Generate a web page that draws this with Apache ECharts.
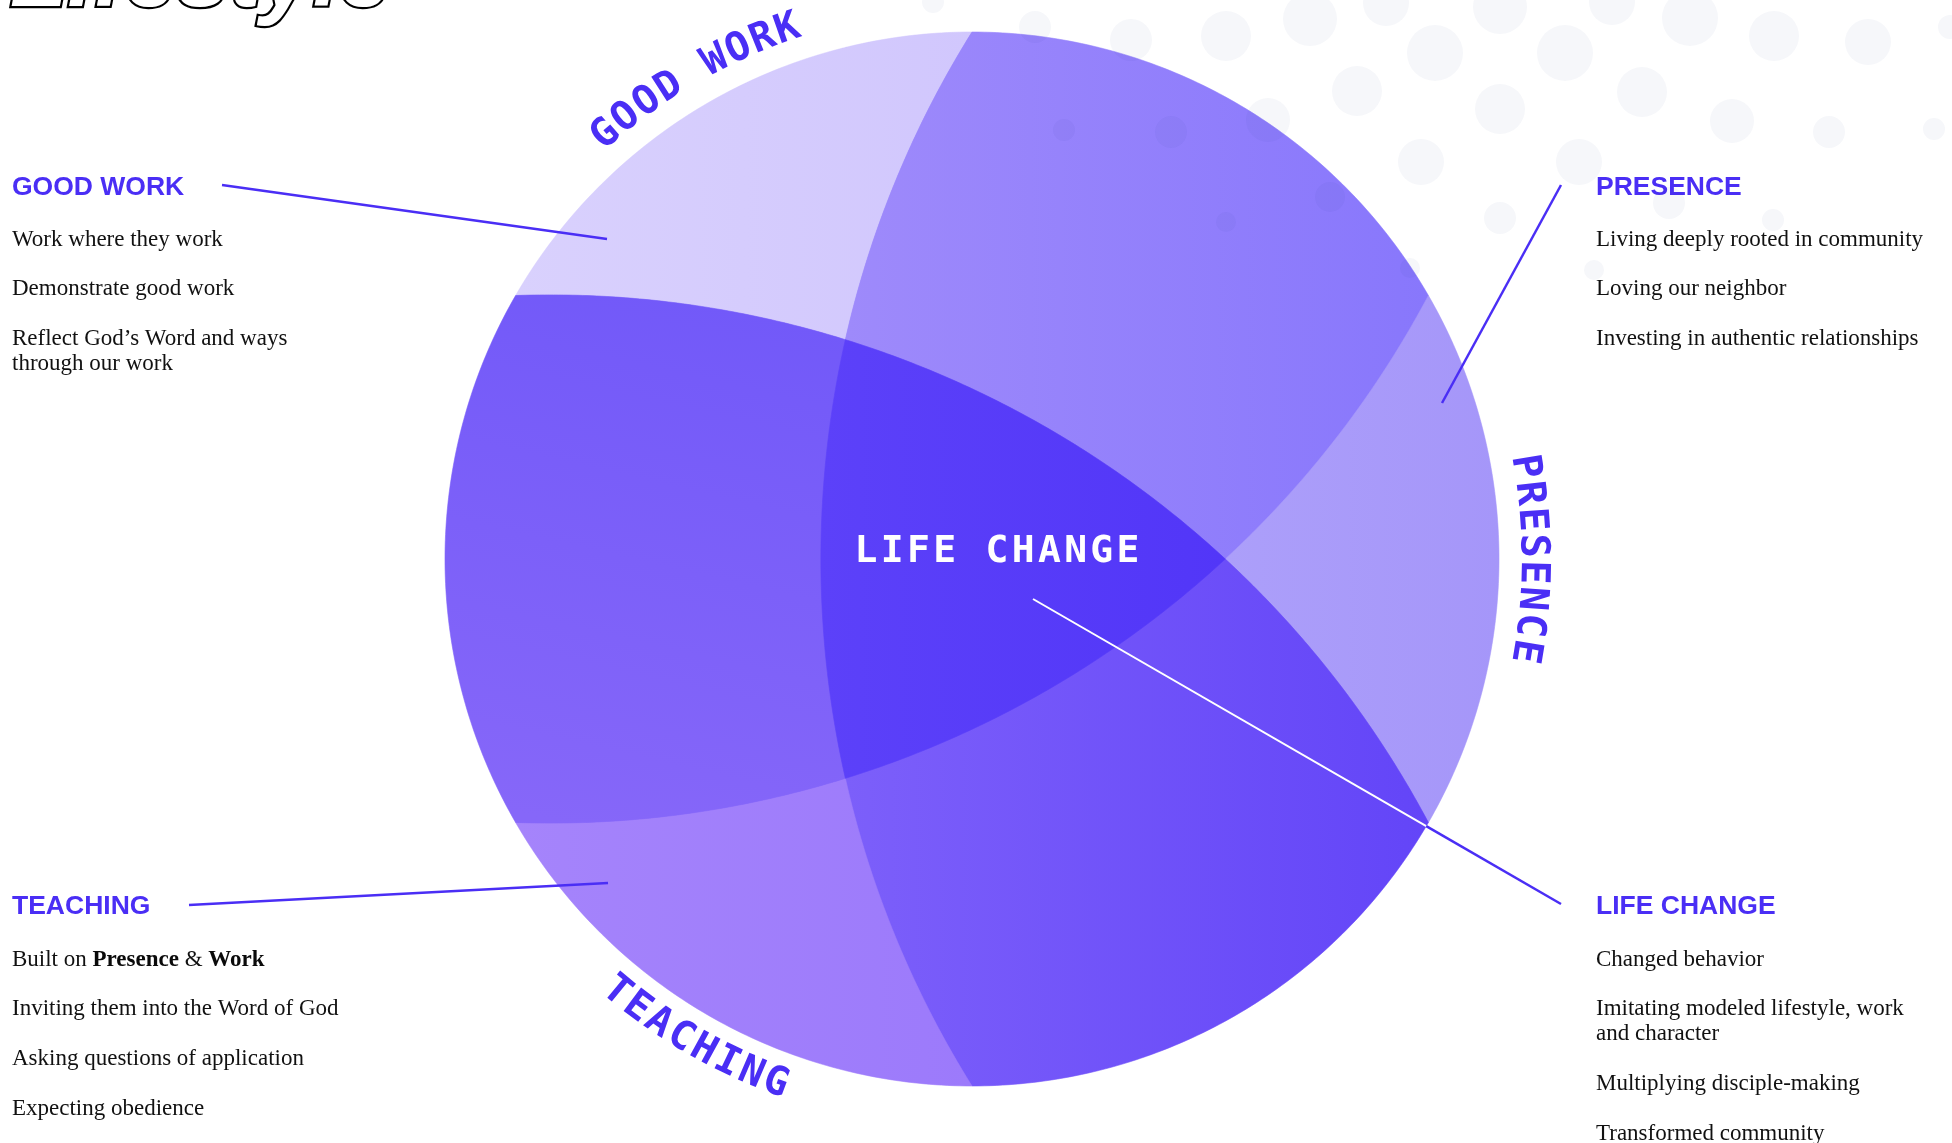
<!DOCTYPE html>
<html><head><meta charset="utf-8">
<script src="https://cdn.jsdelivr.net/npm/echarts@6/dist/echarts.min.js"></script>
<style>html,body{margin:0;padding:0;background:#fff;}#c{width:1952px;height:1143px;}</style>
</head><body><div id="c"></div>
<script>
// ---------------- data (texts & values) ----------------
const titleText = 'Lifestyle';
const centerLabel = 'LIFE CHANGE';
const ringLabels = ['GOOD WORK', 'PRESENCE', 'TEACHING'];
const ringLabelAngles = [120, 0, 240];            // degrees, mid angle of each curved label
const regionNames = ['GOOD WORK', 'GOOD WORK + PRESENCE', 'PRESENCE', 'PRESENCE + TEACHING',
                     'TEACHING', 'GOOD WORK + TEACHING', 'LIFE CHANGE'];
const goodWorkItems = ['Work where they work', 'Demonstrate good work', 'Reflect God\u2019s Word and ways\nthrough our work'];
const presenceItems = ['Living deeply rooted in community', 'Loving our neighbor', 'Investing in authentic relationships'];
const teachingItems = ['Built on {b|Presence} & {b|Work}', 'Inviting them into the Word of God', 'Asking questions of application', 'Expecting obedience'];
const lifeChangeItems = ['Changed behavior', 'Imitating modeled lifestyle, work\nand character', 'Multiplying disciple-making', 'Transformed community'];
// background dots: [x, y, radius] in axis units
const dots = [[933,2,11],[1035,27,16],[1131,40,21],[1226,36,25],[1310,19,27],[1386,3,23],[1500,7,27],
  [1612,2,23],[1690,18,28],[1774,36,25],[1868,42,23],[1950,27,12],[1435,53,28],[1565,53,28],
  [1357,91,25],[1500,109,25],[1642,92,25],[1732,121,22],[1829,132,16],[1934,129,11],[1421,162,23],
  [1579,162,23],[1268,120,22],[1171,132,16],[1064,130,11],[1500,218,16],[1669,203,16],[1773,220,11],
  [1594,270,10],[1330,197,15],[1226,222,10],[1410,268,10]];

// ---------------- geometry / style ----------------
const CX = 972, CY = 559, R = 527;     // disk
const ARC_D = 1.6;                      // distance of each dividing arc's centre (in radii)
const RR = Math.sqrt(1 + ARC_D * ARC_D);
const arcAng = {A: 0, B: 240, C: 120};
const BLUE = '#4a2ef5';
const regionColors = [
  [0, 0, 1, 0, '#d9d1fd', '#d1c7fd'],
  [0, 0, 1, 0, '#9e8afb', '#8877fc'],
  [0, 0, 1, 0, '#ac9ffa', '#a596f9'],
  [0, 0, 1, 0, '#7c5ffa', '#6345f8'],
  [0, 0, 1, 0, '#a584fb', '#9c7afb'],
  [0.6, 0, 0.3, 1, '#7259f9', '#8667f9'],
  [0, 0, 1, 0, '#5c41f9', '#5236f8']
];

function P(deg){ const a = deg*Math.PI/180; return [Math.cos(a), Math.sin(a)]; }
function arcCenter(k){ const p = P(arcAng[k]); return [p[0]*ARC_D, p[1]*ARC_D]; }
function inter(k1, k2){
  const c1 = arcCenter(k1), c2 = arcCenter(k2);
  const dx = c2[0]-c1[0], dy = c2[1]-c1[1], d = Math.hypot(dx, dy);
  const h = Math.sqrt(RR*RR - d*d/4);
  const mx = c1[0]+dx/2, my = c1[1]+dy/2;
  const p1 = [mx - h*dy/d, my + h*dx/d], p2 = [mx + h*dy/d, my - h*dx/d];
  return Math.hypot(p1[0],p1[1]) < Math.hypot(p2[0],p2[1]) ? p1 : p2;
}
const K = {T:P(90), Bo:P(270), UL:P(150), LL:P(210), UR:P(30), LR:P(330),
  IAB: inter('A','B'), IAC: inter('A','C'), IBC: inter('B','C')};
function arcSeg(k, p, q, n){
  const c = arcCenter(k);
  const a1 = Math.atan2(p[1]-c[1], p[0]-c[0]);
  let da = Math.atan2(q[1]-c[1], q[0]-c[0]) - a1;
  while (da > Math.PI) da -= 2*Math.PI; while (da < -Math.PI) da += 2*Math.PI;
  const out = [];
  for (let i = 0; i <= n; i++){ const a = a1 + da*i/n; out.push([c[0]+RR*Math.cos(a), c[1]+RR*Math.sin(a)]); }
  return out;
}
function circSeg(d1, d2, n){ const out = []; for (let i = 0; i <= n; i++) out.push(P(d1 + (d2-d1)*i/n)); return out; }
const regionPaths = [
  [['o',90,150],['B','UL','IAB'],['A','IAB','T']],
  [['A','T','IAB'],['B','IAB','IBC'],['C','IBC','UR'],['o',30,90]],
  [['C','UR','IBC'],['B','IBC','LR'],['o',-30,30]],
  [['B','LR','IBC'],['C','IBC','IAC'],['A','IAC','Bo'],['o',270,330]],
  [['A','Bo','IAC'],['C','IAC','LL'],['o',210,270]],
  [['o',150,210],['C','LL','IAC'],['A','IAC','IAB'],['B','IAB','UL']],
  [['A','IAB','IAC'],['C','IAC','IBC'],['B','IBC','IAB']]
];
function toAxis(u){ return [CX + R*u[0], CY - R*u[1]]; }
function regionPoints(i){
  let pts = [];
  regionPaths[i].forEach(s => {
    pts = pts.concat(s[0] === 'o' ? circSeg(s[1], s[2], 90) : arcSeg(s[0], K[s[1]], K[s[2]], 70));
  });
  return pts.map(toAxis);
}

// curved label layout: pitch (deg), radius (in radii), clockwise?, tops outward?
const RING_PITCH = 2.7, RING_RAD = 1.063;
const ringDir = [{cw: true, out: true}, {cw: true, out: true}, {cw: false, out: false}];

// ---------------- chart ----------------
const chart = echarts.init(document.getElementById('c'), null, {renderer: 'canvas'});

function textEl(x, y, text, font, fill, extra){
  return Object.assign({type: 'text', x: x, y: y, silent: true,
    style: {text: text, font: font, fill: fill, align: 'left', verticalAlign: 'middle',
            textAlign: 'left', textVerticalAlign: 'middle'}}, extra || {});
}
const HEAD_FONT = 'bold 26.5px "Liberation Sans", Arial, sans-serif';
const ITEM_FONT = '23px "Liberation Serif", "Times New Roman", serif';
const ITEM_BOLD = 'bold 23px "Liberation Serif", "Times New Roman", serif';
function block(x, headY, head, items, ys){
  const els = [textEl(x, headY, head, HEAD_FONT, BLUE)];
  items.forEach((it, i) => {
    it.split('\n').forEach((ln, j) => {
      const e = textEl(x, ys[i] + j*25, ln, ITEM_FONT, '#111111');
      e.style.rich = {b: {font: ITEM_BOLD, fill: '#0a0a0a'}};
      els.push(e);
    });
  });
  return els;
}
function lineEl(x1, y1, x2, y2, color, w){
  return {type: 'line', silent: true, z: 100, shape: {x1, y1, x2, y2}, style: {stroke: color, lineWidth: w}};
}
// life change pointer: white inside the disk, blue outside
const lcA = [1033, 599], lcB = [1561, 904];
const dxl = lcB[0]-lcA[0], dyl = lcB[1]-lcA[1];
const ax = lcA[0]-CX, ay = lcA[1]-CY;
const qa = dxl*dxl+dyl*dyl, qb = 2*(ax*dxl+ay*dyl), qc = ax*ax+ay*ay-R*R;
const tHit = (-qb + Math.sqrt(qb*qb-4*qa*qc))/(2*qa);
const lcM = [lcA[0]+dxl*tHit, lcA[1]+dyl*tHit];

const graphics = [].concat(
  [{type: 'text', x: 10, y: -20, silent: true, z: 100,
    style: {text: titleText, font: 'italic bold 94px "Liberation Sans", Arial, sans-serif',
      fill: '#ffffff', stroke: '#000000', lineWidth: 4.5, align: 'left', verticalAlign: 'middle',
      textAlign: 'left', textVerticalAlign: 'middle'}}],
  block(12, 188, ringLabels[0], goodWorkItems, [240, 289, 339]),
  block(1596, 188, ringLabels[1], presenceItems, [240, 289, 339]),
  block(12, 907, ringLabels[2], teachingItems, [960, 1009, 1059, 1109]),
  block(1596, 907, centerLabel, lifeChangeItems, [960, 1009, 1084, 1134]),
  [lineEl(222, 185, 607, 239, BLUE, 2.5),
   lineEl(1561, 185, 1442, 403, BLUE, 2.5),
   lineEl(189, 905, 608, 883, BLUE, 2.5),
   lineEl(lcA[0], lcA[1], lcM[0], lcM[1], '#ffffff', 2),
   lineEl(lcM[0], lcM[1], lcB[0], lcB[1], BLUE, 2.5)]
);

const option = {
  animation: false,
  backgroundColor: '#ffffff',
  grid: {left: 0, right: 0, top: 0, bottom: 0, containLabel: false},
  xAxis: {type: 'value', min: 0, max: 1952, show: false},
  yAxis: {type: 'value', min: 0, max: 1143, inverse: true, show: false},
  series: [
    { // base disk (hides seams)
      type: 'custom', clip: false, silent: true, z: 1, data: [[CX, CY]],
      renderItem: function(params, api){
        const c = api.coord([CX, CY]);
        const r = api.coord([CX + R, CY])[0] - c[0];
        return {type: 'circle', shape: {cx: c[0], cy: c[1], r: r - 0.5}, style: {fill: '#7a5ff9'}};
      }
    },
    { // the seven regions of the disk
      type: 'custom', clip: false, silent: true, z: 2,
      data: regionNames.map((n, i) => ({name: n, value: [i]})),
      renderItem: function(params, api){
        const i = params.dataIndex;
        const pts = regionPoints(i).map(p => api.coord(p));
        const g = regionColors[i];
        const grad = new echarts.graphic.LinearGradient(g[0], g[1], g[2], g[3],
          [{offset: 0, color: g[4]}, {offset: 1, color: g[5]}]);
        return {type: 'polygon', shape: {points: pts}, style: {fill: grad, stroke: grad, lineWidth: 0.6}};
      }
    },
    { // background dots
      type: 'scatter', clip: false, silent: true, z: 3,
      data: dots, symbolSize: v => v[2]*2,
      itemStyle: {color: 'rgba(30,50,140,0.05)'}
    },
    { // curved ring labels and centre label
      type: 'custom', clip: false, silent: true, z: 4,
      data: ringLabels.map((n, i) => ({name: n, value: [ringLabelAngles[i]]})).concat([{name: centerLabel, value: [0]}]),
      renderItem: function(params, api){
        const i = params.dataIndex;
        const children = [];
        if (i < ringLabels.length){
          const txt = ringLabels[i], dir = ringDir[i];
          const n = txt.length, mid = ringLabelAngles[i];
          for (let k = 0; k < n; k++){
            const off = (k - (n-1)/2) * RING_PITCH;
            const th = dir.cw ? mid - off : mid + off;
            const u = P(th);
            const p = api.coord(toAxis([u[0]*RING_RAD, u[1]*RING_RAD]));
            const rot = (dir.out ? th - 90 : th + 90) * Math.PI/180;
            children.push({type: 'text', x: p[0], y: p[1], rotation: rot,
              style: {text: txt[k], font: 'bold 40px "DejaVu Sans Mono", monospace', fill: BLUE,
                align: 'center', verticalAlign: 'middle', textAlign: 'center', textVerticalAlign: 'middle'}});
          }
        } else {
          const n = centerLabel.length, pitch = 26.2;
          const c = api.coord([997, 552]);
          for (let k = 0; k < n; k++){
            children.push({type: 'text', x: c[0] + (k-(n-1)/2)*pitch, y: c[1],
              style: {text: centerLabel[k], font: 'bold 38px "DejaVu Sans Mono", monospace', fill: '#ffffff',
                align: 'center', verticalAlign: 'middle', textAlign: 'center', textVerticalAlign: 'middle'}});
          }
        }
        return {type: 'group', children: children};
      }
    }
  ],
  graphic: graphics
};
chart.setOption(option);
</script>
</body></html>
